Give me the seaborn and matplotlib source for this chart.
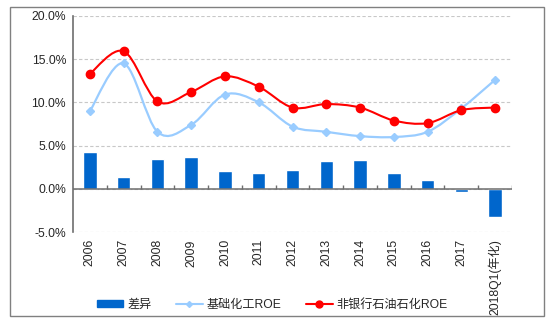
import numpy as np
import pandas as pd
import matplotlib
matplotlib.use("Agg")
import matplotlib.pyplot as plt
from matplotlib.path import Path
from matplotlib.patches import PathPatch, Rectangle
from matplotlib.lines import Line2D
import seaborn as sns

categories = ["2006", "2007", "2008", "2009", "2010", "2011", "2012", "2013",
              "2014", "2015", "2016", "2017", "2018Q1(年化)"]
chem_roe = [9.0, 14.5, 6.6, 7.4, 10.9, 10.0, 7.2, 6.6, 6.1, 6.0, 6.6, 9.3, 12.6]
nonbank_roe = [13.3, 15.9, 10.1, 11.2, 13.0, 11.8, 9.4, 9.8, 9.4, 7.9, 7.6, 9.1, 9.4]
diff = [4.3, 1.4, 3.5, 3.7, 2.1, 1.8, 2.2, 3.2, 3.3, 1.9, 1.0, -0.3, -3.2]
yticks = [-5, 0, 5, 10, 15, 20]

sns.set_style("white")
plt.rcParams['font.family'] = ['Liberation Sans', 'Noto Sans CJK SC', 'DejaVu Sans']

BAR = "#0066CC"
LIGHT = "#99CCFF"
RED = "#FF0000"
AXC = "#6E6E6E"
FS = 8.7

fig = plt.figure(figsize=(5.56, 3.22), dpi=100)
ax = fig.add_axes([73/556, 1-232.3/322, (512-73)/556, (232.3-15.7)/322])

df = pd.DataFrame({"cat": categories, "diff": diff})
sns.barplot(data=df, x="cat", y="diff", color=BAR, saturation=1, width=0.4, ax=ax, zorder=2)


def smooth_path(xs, ys):
    pts = np.column_stack([xs, ys])
    n = len(pts)
    verts = [pts[0]]
    codes = [Path.MOVETO]
    for i in range(n - 1):
        p0 = pts[i - 1] if i > 0 else pts[i]
        p1 = pts[i]
        p2 = pts[i + 1]
        p3 = pts[i + 2] if i + 2 < n else pts[i + 1]
        c1 = p1 + (p2 - p0) / 6.0
        c2 = p2 - (p3 - p1) / 6.0
        verts += [c1, c2, p2]
        codes += [Path.CURVE4] * 3
    return Path(verts, codes)


x = np.arange(len(categories))
ax.add_patch(PathPatch(smooth_path(x, chem_roe), fill=False, edgecolor=LIGHT, lw=1.6, zorder=3))
ax.plot(x, chem_roe, linestyle="none", marker="D", markersize=4.5, color=LIGHT, zorder=4)
ax.add_patch(PathPatch(smooth_path(x, nonbank_roe), fill=False, edgecolor=RED, lw=1.5, zorder=5))
ax.plot(x, nonbank_roe, linestyle="none", marker="o", markersize=6, color=RED, zorder=6)

ax.set_xlim(-0.5, len(categories) - 0.5)
ax.set_ylim(-5, 20)
ax.set_yticks(yticks)
ax.set_yticklabels([f"{v:.1f}%" for v in yticks], fontsize=FS)
ax.yaxis.grid(True, linestyle=(0, (3, 2)), color="#C8C8C8", lw=0.8)
ax.set_axisbelow(True)
ax.set_xlabel("")
ax.set_ylabel("")

ax.set_xticks(x)
ax.set_xticklabels(categories, rotation=90, fontsize=FS, va="top")
ax.tick_params(axis="x", length=0, pad=5)
ax.tick_params(axis="y", length=3, width=1, color=AXC, direction="in", pad=5)

for s in ["top", "right", "bottom"]:
    ax.spines[s].set_visible(False)
ax.spines["left"].set_color(AXC)
ax.spines["left"].set_linewidth(1.2)

# zero axis line with small upward ticks between categories
ax.axhline(0, color=AXC, lw=1.1, zorder=2.5)
bounds = np.arange(-0.5, len(categories), 1.0)[1:]
ax.vlines(bounds, 0, 0.45, color=AXC, lw=1, zorder=2.5)

handles = [
    Rectangle((0, 0), 1, 1, facecolor=BAR, edgecolor=BAR),
    Line2D([], [], color=LIGHT, marker="D", markersize=3, lw=1.5),
    Line2D([], [], color=RED, marker="o", markersize=5, lw=1.5),
]
labels = ["差异", "基础化工ROE", "非银行石油石化ROE"]
fig.legend(handles, labels, loc="center", bbox_to_anchor=(0.49, 1-305/322), ncol=3,
           frameon=False, fontsize=FS, handlelength=2.2, handleheight=0.55,
           columnspacing=2.0, handletextpad=0.35)

fig.add_artist(Rectangle((10/556, 1-316/322), (544-10)/556, (316-7)/322,
                         transform=fig.transFigure, fill=False, edgecolor="#808080", lw=1))

fig.savefig("out.png", dpi=100)
